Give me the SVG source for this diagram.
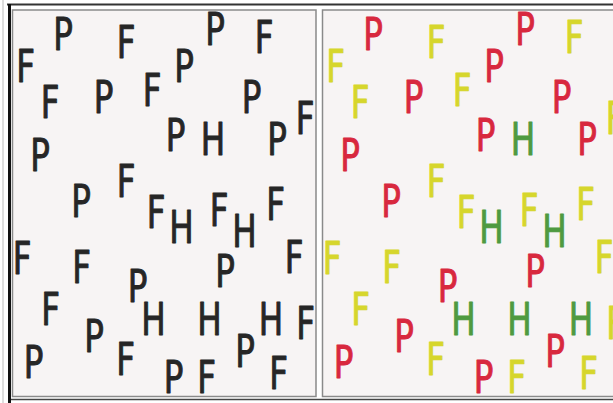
<svg xmlns="http://www.w3.org/2000/svg" width="613" height="403" viewBox="0 0 613 403">
<style>
.panel{fill:#f7f4f4;stroke:#8a8a8a;stroke-width:1.5}
text{font-family:"DejaVu Sans",sans-serif;font-size:44px;text-anchor:middle;stroke-width:1;stroke-linejoin:round}
.k text{fill:#262626;stroke:#262626}
.c .P{fill:#d8283e;stroke:#d8283e}
.c .F{fill:#d6d62c;stroke:#d6d62c}
.c .H{fill:#4f9a40;stroke:#4f9a40}
</style>
<rect x="0" y="0" width="613" height="403" fill="#ffffff"/>
<g id="frame">
<line x1="7" y1="4.5" x2="613" y2="4.5" stroke="#333" stroke-width="2"/>
<line x1="9.5" y1="4" x2="9.5" y2="403" stroke="#111" stroke-width="3"/>
<line x1="3" y1="0" x2="3" y2="403" stroke="#bbb" stroke-width="1"/>
<line x1="11" y1="399.5" x2="613" y2="399.5" stroke="#444" stroke-width="1.5"/>
</g>
<g id="left-panel" class="k">
<rect class="panel" x="12.5" y="10" width="303.5" height="386.5"/>
<text class="F" transform="translate(25.5,82) scale(0.74,1)">F</text>
<text class="P" transform="translate(63,50) scale(0.74,1)">P</text>
<text class="F" transform="translate(126,58) scale(0.74,1)">F</text>
<text class="P" transform="translate(215,45) scale(0.74,1)">P</text>
<text class="F" transform="translate(264,53) scale(0.74,1)">F</text>
<text class="P" transform="translate(184,82) scale(0.74,1)">P</text>
<text class="F" transform="translate(50,118) scale(0.74,1)">F</text>
<text class="P" transform="translate(103.5,113) scale(0.74,1)">P</text>
<text class="F" transform="translate(152,106) scale(0.74,1)">F</text>
<text class="P" transform="translate(251.5,113) scale(0.74,1)">P</text>
<text class="F" transform="translate(305,134) scale(0.74,1)">F</text>
<text class="P" transform="translate(40,171) scale(0.74,1)">P</text>
<text class="P" transform="translate(175.5,151) scale(0.74,1)">P</text>
<text class="H" transform="translate(213,155) scale(0.74,1)">H</text>
<text class="P" transform="translate(277,155) scale(0.74,1)">P</text>
<text class="F" transform="translate(126,197) scale(0.74,1)">F</text>
<text class="P" transform="translate(81,217) scale(0.74,1)">P</text>
<text class="F" transform="translate(156,228) scale(0.74,1)">F</text>
<text class="H" transform="translate(181.5,243) scale(0.74,1)">H</text>
<text class="F" transform="translate(219,226) scale(0.74,1)">F</text>
<text class="H" transform="translate(244.5,247) scale(0.74,1)">H</text>
<text class="F" transform="translate(275.5,220) scale(0.74,1)">F</text>
<text class="F" transform="translate(22,274) scale(0.74,1)">F</text>
<text class="F" transform="translate(81.5,283) scale(0.74,1)">F</text>
<text class="P" transform="translate(137.5,302) scale(0.74,1)">P</text>
<text class="P" transform="translate(225,287) scale(0.74,1)">P</text>
<text class="F" transform="translate(294,273) scale(0.74,1)">F</text>
<text class="F" transform="translate(50.5,325) scale(0.74,1)">F</text>
<text class="H" transform="translate(153.5,335) scale(0.74,1)">H</text>
<text class="H" transform="translate(209.5,335) scale(0.74,1)">H</text>
<text class="H" transform="translate(271,335) scale(0.74,1)">H</text>
<text class="F" transform="translate(305.5,339) scale(0.74,1)">F</text>
<text class="P" transform="translate(94,352) scale(0.74,1)">P</text>
<text class="P" transform="translate(33.5,378) scale(0.74,1)">P</text>
<text class="F" transform="translate(125.5,375) scale(0.74,1)">F</text>
<text class="P" transform="translate(173.5,393) scale(0.74,1)">P</text>
<text class="F" transform="translate(206.5,393) scale(0.74,1)">F</text>
<text class="P" transform="translate(245,367) scale(0.74,1)">P</text>
<text class="F" transform="translate(278.5,389) scale(0.74,1)">F</text>
</g>
<g id="right-panel" class="c">
<rect class="panel" x="322.5" y="10" width="303.5" height="386.5"/>
<text class="F" transform="translate(335.5,82) scale(0.74,1)">F</text>
<text class="P" transform="translate(373,50) scale(0.74,1)">P</text>
<text class="F" transform="translate(436,58) scale(0.74,1)">F</text>
<text class="P" transform="translate(525,45) scale(0.74,1)">P</text>
<text class="F" transform="translate(574,53) scale(0.74,1)">F</text>
<text class="P" transform="translate(494,82) scale(0.74,1)">P</text>
<text class="F" transform="translate(360,118) scale(0.74,1)">F</text>
<text class="P" transform="translate(413.5,113) scale(0.74,1)">P</text>
<text class="F" transform="translate(462,106) scale(0.74,1)">F</text>
<text class="P" transform="translate(561.5,113) scale(0.74,1)">P</text>
<text class="F" transform="translate(615,134) scale(0.74,1)">F</text>
<text class="P" transform="translate(350,171) scale(0.74,1)">P</text>
<text class="P" transform="translate(485.5,151) scale(0.74,1)">P</text>
<text class="H" transform="translate(523,155) scale(0.74,1)">H</text>
<text class="P" transform="translate(587,155) scale(0.74,1)">P</text>
<text class="F" transform="translate(436,197) scale(0.74,1)">F</text>
<text class="P" transform="translate(391,217) scale(0.74,1)">P</text>
<text class="F" transform="translate(466,228) scale(0.74,1)">F</text>
<text class="H" transform="translate(491.5,243) scale(0.74,1)">H</text>
<text class="F" transform="translate(529,226) scale(0.74,1)">F</text>
<text class="H" transform="translate(554.5,247) scale(0.74,1)">H</text>
<text class="F" transform="translate(585.5,220) scale(0.74,1)">F</text>
<text class="F" transform="translate(332,274) scale(0.74,1)">F</text>
<text class="F" transform="translate(391.5,283) scale(0.74,1)">F</text>
<text class="P" transform="translate(447.5,302) scale(0.74,1)">P</text>
<text class="P" transform="translate(535,287) scale(0.74,1)">P</text>
<text class="F" transform="translate(604,273) scale(0.74,1)">F</text>
<text class="F" transform="translate(360.5,325) scale(0.74,1)">F</text>
<text class="H" transform="translate(463.5,335) scale(0.74,1)">H</text>
<text class="H" transform="translate(519.5,335) scale(0.74,1)">H</text>
<text class="H" transform="translate(581,335) scale(0.74,1)">H</text>
<text class="F" transform="translate(615.5,339) scale(0.74,1)">F</text>
<text class="P" transform="translate(404,352) scale(0.74,1)">P</text>
<text class="P" transform="translate(343.5,378) scale(0.74,1)">P</text>
<text class="F" transform="translate(435.5,375) scale(0.74,1)">F</text>
<text class="P" transform="translate(483.5,393) scale(0.74,1)">P</text>
<text class="F" transform="translate(516.5,393) scale(0.74,1)">F</text>
<text class="P" transform="translate(555,367) scale(0.74,1)">P</text>
<text class="F" transform="translate(588.5,389) scale(0.74,1)">F</text>
</g>
</svg>
